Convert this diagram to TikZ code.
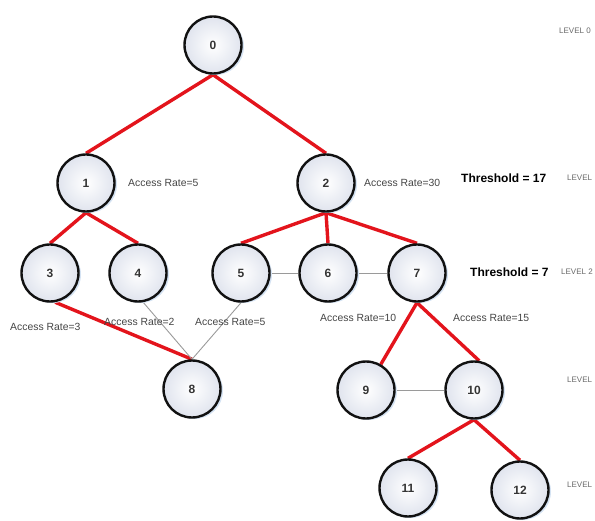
\documentclass[tikz,border=0pt]{standalone}
\usepackage{fontspec}
\setmainfont{Liberation Sans}
\usetikzlibrary{shadows,backgrounds}
\definecolor{treeRed}{HTML}{E3141C}
\definecolor{treeDark}{HTML}{111111}
\definecolor{treeLink}{HTML}{9A9A9A}
\definecolor{treeFill}{HTML}{E0E4EE}
\definecolor{treeShadow}{HTML}{D5E3F3}
\definecolor{treeText}{HTML}{444444}

\begin{document}
\begin{tikzpicture}[
    x=1pt, y=-1pt,
    vertex/.style={circle, draw=treeDark, line width=2.4pt, minimum size=57pt,
                   inner color=white, outer color=treeFill,
                   drop shadow={shadow xshift=2.5pt, shadow yshift=-1.5pt,
                                fill=treeShadow, opacity=1},
                   font=\fontsize{12}{14}\selectfont\bfseries, text=treeDark!85},
    parent/.style={line width=3.4pt, color=treeRed},
    link/.style={line width=0.9pt, color=treeLink},
    rate/.style={anchor=west, inner sep=0pt, font=\fontsize{10.4}{12}\selectfont, text=treeText},
    thresh/.style={anchor=west, inner sep=0pt, font=\fontsize{12}{14}\selectfont\bfseries, text=black},
    level/.style={anchor=west, inner sep=0pt, font=\fontsize{8}{10}\selectfont, text=treeText!80}
]
    \useasboundingbox (0,0) rectangle (595,521);

    % --- Level 0 ---
    \node[vertex] (n0) at (213, 45) {0};
    \node[level] (lev0) at (559, 31) {LEVEL 0};

    % --- Level 1 ---
    \node[vertex] (n1) at (86, 183) {1};
    \node[vertex] (n2) at (326, 183) {2};
    \node[rate] (rate1) at (128, 183) {Access Rate=5};
    \node[rate] (rate2) at (364, 183) {Access Rate=30};
    \node[thresh] (thresh1) at (461, 178) {Threshold = 17};
    \node[level] (lev1) at (567, 178) {LEVEL};

    % --- Level 2 ---
    \node[vertex] (n3) at (50, 273) {3};
    \node[vertex] (n4) at (138, 273) {4};
    \node[vertex] (n5) at (241, 273) {5};
    \node[vertex] (n6) at (328, 273) {6};
    \node[vertex] (n7) at (417, 273) {7};
    \node[rate] (rate3) at (10, 327) {Access Rate=3};
    \node[rate] (rate4) at (104, 322) {Access Rate=2};
    \node[rate] (rate5) at (195, 322) {Access Rate=5};
    \node[rate] (rate6) at (320, 318) {Access Rate=10};
    \node[rate] (rate7) at (453, 318) {Access Rate=15};
    \node[thresh] (thresh2) at (470, 272) {Threshold = 7};
    \node[level] (lev2) at (561, 272) {LEVEL 2};

    % --- Level 3 ---
    \node[vertex] (n8) at (192, 389) {8};
    \node[vertex] (n9) at (366, 390) {9};
    \node[vertex] (n10) at (474, 390) {10};
    \node[level] (lev3) at (567, 380) {LEVEL};

    % --- Level 4 ---
    \node[vertex] (n11) at (408, 488) {11};
    \node[vertex] (n12) at (520, 490) {12};
    \node[level] (lev4) at (567, 485) {LEVEL};

    \begin{pgfonlayer}{background}
        % parent links
        \draw[parent] (n0.south) -- (n1.north);
        \draw[parent] (n0.south) -- (n2.north);
        \draw[parent] (n1.south) -- (n3.north);
        \draw[parent] (n1.south) -- (n4.north);
        \draw[parent] (n2.south) -- (n5.north);
        \draw[parent] (n2.south) -- (n6.north);
        \draw[parent] (n2.south) -- (n7.north);
        \draw[parent] (n3.-80) -- (n8.north);
        \draw[parent] (n7.south) -- (n9.60);
        \draw[parent] (n7.south) -- (n10.80);
        \draw[parent] (n10.south) -- (n11.north);
        \draw[parent] (n10.south) -- (n12.north);

        % sibling and shared links
        \draw[link] (n4.-80) -- (n8.north);
        \draw[link] (n5.south) -- (n8.north);
        \draw[link] (n5) -- (n6);
        \draw[link] (n6) -- (n7);
        \draw[link] (n9) -- (n10);
    \end{pgfonlayer}
\end{tikzpicture}
\end{document}
